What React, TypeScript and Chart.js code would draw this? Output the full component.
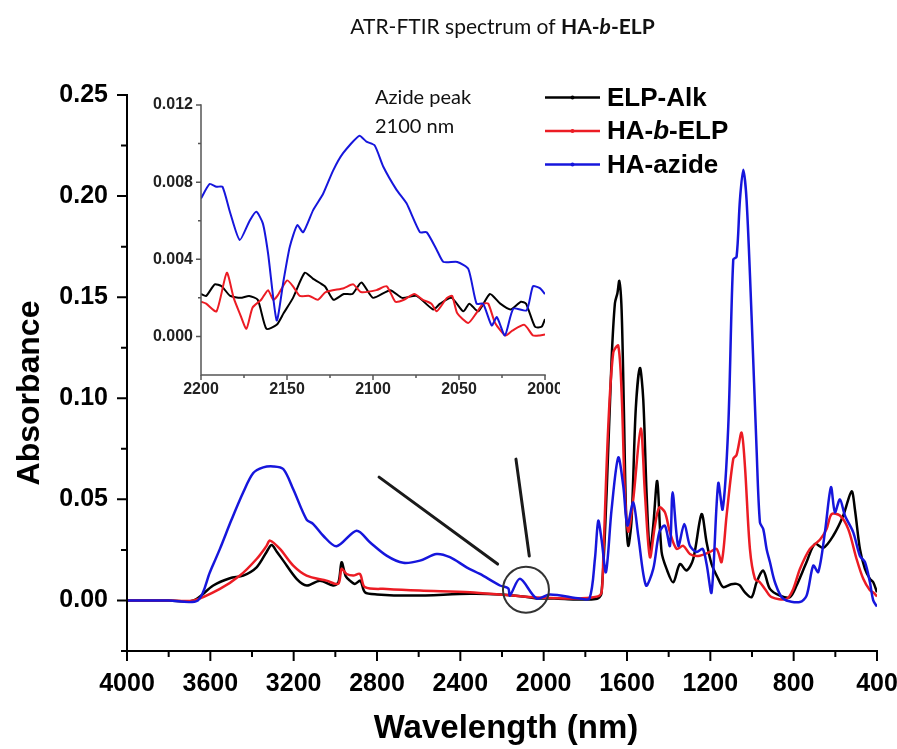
import React, { useEffect, useRef } from 'react';
import { Chart, registerables } from 'chart.js';

Chart.register(...registerables);

// ---------------- DATA ----------------
const SERIES_NAMES = ['ELP-Alk', 'HA-b-ELP', 'HA-azide'];

const X_TICKS = [4000, 3600, 3200, 2800, 2400, 2000, 1600, 1200, 800, 400];
const X_MINOR = [3800, 3400, 3000, 2600, 2200, 1800, 1400, 1000, 600];
const Y_TICKS = [0, 0.05, 0.1, 0.15, 0.2, 0.25];
const Y_MINOR = [-0.025, 0.025, 0.075, 0.125, 0.175, 0.225];

const INSET_X_TICKS = [2200, 2150, 2100, 2050, 2000];
const INSET_X_MINOR = [2175, 2125, 2075, 2025];
const INSET_Y_TICKS = [0, 0.004, 0.008, 0.012];
const INSET_Y_MINOR = [0.002, 0.006, 0.01];

// [wavenumber, absorbance]
const ELP_ALK: [number, number][] = [
  [4000, 0], [3800, 0], [3680, 0], [3586, 0.0074], [3506, 0.011], [3442, 0.0123], [3378, 0.0164],
  [3330, 0.024], [3306, 0.0274], [3280, 0.024], [3250, 0.0197], [3186, 0.0107], [3137, 0.0074], [3074, 0.0098],
  [3011, 0.0074], [2985, 0.009], [2970, 0.0189], [2950, 0.012], [2930, 0.0098], [2906, 0.0082], [2880, 0.0098],
  [2858, 0.0041], [2800, 0.003], [2626, 0.0024], [2354, 0.0033], [2210, 0.003], [2100, 0.002], [2034, 0.001],
  [1950, 0.001], [1850, 0.0005], [1780, 0.0005], [1740, 0.001], [1722, 0.004], [1698, 0.053], [1674, 0.119],
  [1658, 0.147], [1646, 0.152], [1637, 0.158], [1626, 0.144], [1615, 0.0946], [1605, 0.045], [1594, 0.027],
  [1578, 0.04], [1558, 0.0946], [1538, 0.115], [1522, 0.0995], [1506, 0.053], [1490, 0.024], [1474, 0.037],
  [1455, 0.059], [1434, 0.024], [1410, 0.0156], [1378, 0.009], [1346, 0.018], [1314, 0.0148], [1282, 0.0205],
  [1242, 0.0427], [1218, 0.0288], [1194, 0.018], [1162, 0.0107], [1138, 0.0066], [1100, 0.008], [1074, 0.0082],
  [1058, 0.0074], [1034, 0.004], [1002, 0.0016], [978, 0.009], [946, 0.0148], [914, 0.0057], [866, 0.0024],
  [818, 0.0016], [786, 0.0074], [738, 0.019], [698, 0.028], [658, 0.026], [610, 0.032], [562, 0.042],
  [522, 0.054], [506, 0.045], [482, 0.0255], [458, 0.0156], [434, 0.0107], [418, 0.009], [400, 0.004],
];

const HA_B_ELP: [number, number][] = [
  [4000, 0], [3800, 0], [3680, 0], [3554, 0.0057], [3458, 0.0123], [3378, 0.0205], [3330, 0.027],
  [3314, 0.0296], [3266, 0.0255], [3202, 0.0172], [3138, 0.0123], [3042, 0.0098], [2986, 0.0082], [2970, 0.0156],
  [2946, 0.0131], [2914, 0.0123], [2882, 0.0131], [2858, 0.0066], [2754, 0.0057], [2594, 0.0049], [2354, 0.0041],
  [2194, 0.0028], [2100, 0.002], [2034, 0.0015], [1900, 0.001], [1826, 0.001], [1740, 0.002], [1722, 0.004],
  [1714, 0.0205], [1690, 0.086], [1666, 0.1226], [1642, 0.126], [1626, 0.103], [1610, 0.053], [1594, 0.034],
  [1570, 0.05], [1534, 0.085], [1514, 0.053], [1490, 0.0214], [1466, 0.037], [1445, 0.046], [1418, 0.0436],
  [1394, 0.0337], [1362, 0.0255], [1330, 0.027], [1298, 0.023], [1258, 0.022], [1202, 0.024], [1170, 0.0255],
  [1146, 0.019], [1122, 0.042], [1090, 0.07], [1074, 0.072], [1050, 0.083], [1034, 0.0666], [1010, 0.0255],
  [986, 0.0107], [962, 0.009], [938, 0.0057], [906, 0.0016], [834, 0.0008], [802, 0.0057], [770, 0.0156],
  [722, 0.0255], [674, 0.03], [642, 0.0353], [618, 0.0427], [578, 0.042], [538, 0.0353], [498, 0.0205],
  [466, 0.0107], [434, 0.005], [418, 0.004], [400, 0.002],
];

const HA_AZIDE: [number, number][] = [
  [4000, 0], [3800, 0], [3660, 0], [3602, 0.014], [3554, 0.0255], [3498, 0.04], [3442, 0.0535], [3394, 0.063],
  [3346, 0.0658], [3298, 0.0663], [3250, 0.065],
  [3202, 0.055], [3138, 0.04], [3106, 0.0378], [3058, 0.032], [2994, 0.0268], [2898, 0.0345], [2834, 0.0288],
  [2754, 0.0222], [2674, 0.0186], [2594, 0.0197], [2514, 0.023], [2450, 0.0214], [2370, 0.0164], [2306, 0.0131],
  [2210, 0.0074], [2170, 0.006], [2162, 0.0024], [2114, 0.0107], [2034, 0.001], [1970, 0.003], [1826, 0.001],
  [1780, 0.001], [1754, 0.0205], [1738, 0.0394], [1722, 0.03], [1701, 0.014], [1674, 0.045], [1642, 0.0707],
  [1618, 0.0567], [1598, 0.037], [1570, 0.0485], [1546, 0.032], [1509, 0.0074], [1474, 0.0156], [1445, 0.0337],
  [1418, 0.037], [1394, 0.027], [1381, 0.0535], [1354, 0.027], [1325, 0.0378], [1298, 0.027], [1266, 0.024],
  [1237, 0.0255], [1218, 0.018], [1194, 0.004], [1162, 0.058], [1141, 0.045], [1114, 0.086], [1090, 0.1686],
  [1074, 0.17], [1058, 0.198], [1042, 0.213], [1026, 0.198], [1002, 0.1406], [978, 0.0748], [962, 0.0386],
  [946, 0.0353], [930, 0.0255], [914, 0.019], [890, 0.009], [850, 0.0008], [770, -0.0008], [738, 0.0024],
  [706, 0.0172], [682, 0.014], [650, 0.0337], [621, 0.056], [602, 0.0436], [578, 0.05], [554, 0.042],
  [514, 0.0337], [482, 0.022], [458, 0.019], [434, 0.009], [418, 0], [400, -0.003],
];

// inset (2200 - 2000)
const INSET_ELP_ALK: [number, number][] = [
  [2200, 0.0022], [2197, 0.0021], [2192, 0.0027], [2188, 0.0026], [2183, 0.0021], [2177, 0.002], [2172, 0.0021],
  [2167, 0.0019], [2162, 0.0004], [2156, 0.0006], [2152, 0.0012], [2146.5, 0.002], [2139.7, 0.0033], [2135, 0.003],
  [2128, 0.0026], [2123, 0.0019], [2117, 0.0022], [2112, 0.0022], [2106.7, 0.0028], [2100, 0.002], [2090, 0.0024],
  [2083, 0.002], [2074.7, 0.0021], [2065, 0.0014], [2061, 0.0017], [2054.3, 0.002], [2047.5, 0.0013], [2044, 0.0017],
  [2038.8, 0.0013], [2032, 0.0022], [2026, 0.0017], [2020, 0.0014], [2014, 0.0018], [2011, 0.0017], [2005.8, 0.0005],
  [2002, 0.0005], [2000, 0.0009],
];

const INSET_HA_B_ELP: [number, number][] = [
  [2200, 0.0018], [2197, 0.0017], [2191, 0.0013], [2185, 0.0033], [2181, 0.002], [2177.5, 0.0012], [2173.6, 0.0004],
  [2170, 0.0015], [2165, 0.0019], [2161, 0.0024], [2158, 0.0019], [2155.6, 0.0021], [2150, 0.0029], [2146.5, 0.0026],
  [2142.6, 0.0021], [2137, 0.0021], [2132, 0.0019], [2127.5, 0.0023], [2117, 0.0025], [2111.5, 0.0027], [2107, 0.0023],
  [2098, 0.0024], [2092, 0.0026], [2087, 0.0018], [2082, 0.0019], [2076, 0.0022], [2071, 0.0019], [2066, 0.0017],
  [2063, 0.0013], [2057, 0.002], [2054, 0.0021], [2051, 0.0012], [2044.6, 0.0007], [2040, 0.0012], [2036, 0.0017],
  [2033, 0.0017], [2029, 0.0007], [2023, 0.00005], [2019, 0.0003], [2012, 0.0006], [2007, 0.00005], [2003, 0.00005],
  [2000, 0.0001],
];

const INSET_HA_AZIDE: [number, number][] = [
  [2200, 0.00715], [2195, 0.0079], [2191, 0.00776], [2187.5, 0.00776], [2183, 0.0064], [2177.5, 0.005], [2171.7, 0.006],
  [2167.8, 0.00646], [2164, 0.00585], [2161, 0.0043], [2156, 0.00083], [2152, 0.0029], [2148.4, 0.00464], [2144, 0.00577],
  [2140.6, 0.0054], [2134.8, 0.00655], [2129, 0.0074], [2123.2, 0.0086], [2117.4, 0.0095], [2108, 0.0104], [2103.8, 0.0101],
  [2099, 0.0099], [2094, 0.0088], [2086.3, 0.0076], [2080.5, 0.0069], [2072.7, 0.0054], [2068.8, 0.0054], [2063, 0.0045],
  [2059, 0.00386], [2051, 0.00386], [2044.6, 0.0035], [2039.8, 0.0017], [2036, 0.0017], [2031, 0.00057], [2028, 0.001],
  [2023.3, 0.00005], [2018.4, 0.00144], [2010.7, 0.00135], [2007, 0.0026], [2003, 0.0025], [2000, 0.0022],
];

// annotation: pointer lines [wn1, abs1, wn2, abs2] and circled region [wn, abs]
const ANNOT_LINES: [number, number, number, number][] = [
  [2790, 0.061, 2221, 0.018],
  [2133, 0.0699, 2069, 0.022],
];
const ANNOT_CIRCLE: [number, number] = [2085, 0.0053];

// ---------------- STYLE ----------------
const BLACK = '#000000';
const RED = '#ec1c24';
const BLUE = '#1616dc';
const ARIAL = '"Liberation Sans", Arial, sans-serif';
const CAL = 'Lato, "Open Sans", sans-serif';

type Run = { text: string; font: string };

function runsWidth(ctx: CanvasRenderingContext2D, runs: Run[]) {
  let w = 0;
  for (const r of runs) {
    ctx.font = r.font;
    w += ctx.measureText(r.text).width;
  }
  return w;
}
function drawRuns(ctx: CanvasRenderingContext2D, runs: Run[], x: number, y: number) {
  for (const r of runs) {
    ctx.font = r.font;
    ctx.fillText(r.text, x, y);
    x += ctx.measureText(r.text).width;
  }
}

const pts = (arr: [number, number][]) => arr.map(([x, y]) => ({ x, y }));

const framePlugin = {
  id: 'frame',
  afterDatasetsDraw(chart: any, _a: any, o: any) {
    const { ctx, chartArea: a } = chart;
    const xs = chart.scales.x;
    const ys = chart.scales.y;
    ctx.save();
    ctx.strokeStyle = o.color;
    ctx.lineWidth = o.axisWidth;
    ctx.lineCap = 'square';
    const top = ys.getPixelForValue(o.yTop);
    ctx.beginPath();
    ctx.moveTo(a.left, top);
    ctx.lineTo(a.left, a.bottom);
    ctx.lineTo(a.right, a.bottom);
    ctx.stroke();
    ctx.lineCap = 'butt';
    ctx.lineWidth = o.tickWidth;
    ctx.beginPath();
    const xt = (vals: number[], len: number) =>
      vals.forEach((v) => {
        const p = xs.getPixelForValue(v);
        ctx.moveTo(p, a.bottom);
        ctx.lineTo(p, a.bottom + len);
      });
    const yt = (vals: number[], len: number) =>
      vals.forEach((v) => {
        const p = ys.getPixelForValue(v);
        ctx.moveTo(a.left, p);
        ctx.lineTo(a.left - len, p);
      });
    xt(o.xMajor, o.majorLen);
    xt(o.xMinor, o.minorLen);
    yt(o.yMajor, o.majorLen);
    yt(o.yMinor, o.minorLen);
    ctx.stroke();
    ctx.restore();
  },
};

const TITLE_RUNS: Run[] = [
  { text: 'ATR-FTIR spectrum of ', font: `21px ${CAL}` },
  { text: 'HA-', font: `bold 21px ${CAL}` },
  { text: 'b', font: `italic bold 21px ${CAL}` },
  { text: '-ELP', font: `bold 21px ${CAL}` },
];
const LEG = `bold 26px ${ARIAL}`;
const LEG_I = `italic bold 26px ${ARIAL}`;
const LEGEND_RUNS: Run[][] = [
  [{ text: SERIES_NAMES[0], font: LEG }],
  [{ text: 'HA-', font: LEG }, { text: 'b', font: LEG_I }, { text: '-ELP', font: LEG }],
  [{ text: SERIES_NAMES[2], font: LEG }],
];
const LEGEND_COLORS = [BLACK, RED, BLUE];

const decoPlugin = {
  id: 'deco',
  afterDraw(chart: any) {
    const { ctx, chartArea: a } = chart;
    const xs = chart.scales.x;
    const ys = chart.scales.y;
    ctx.save();
    // title
    ctx.fillStyle = '#111';
    ctx.textAlign = 'left';
    ctx.textBaseline = 'alphabetic';
    const tw = runsWidth(ctx, TITLE_RUNS);
    drawRuns(ctx, TITLE_RUNS, 502.5 - tw / 2, 34);

    // axis titles
    ctx.fillStyle = '#000';
    ctx.font = `bold 33px ${ARIAL}`;
    ctx.textAlign = 'center';
    ctx.textBaseline = 'middle';
    ctx.fillText('Wavelength (nm)', (a.left + a.right) / 2 + 4, 729);
    ctx.font = `bold 32px ${ARIAL}`;
    ctx.save();
    ctx.translate(30, 393);
    ctx.rotate(-Math.PI / 2);
    ctx.fillText('Absorbance', 0, 0);
    ctx.restore();

    // legend
    const ly = [97.5, 131, 164.5];
    ctx.textAlign = 'left';
    ctx.textBaseline = 'middle';
    LEGEND_RUNS.forEach((runs, i) => {
      ctx.strokeStyle = LEGEND_COLORS[i];
      ctx.lineWidth = 2.5;
      ctx.beginPath();
      ctx.moveTo(545, ly[i]);
      ctx.lineTo(600, ly[i]);
      ctx.stroke();
      ctx.fillStyle = LEGEND_COLORS[i];
      ctx.beginPath();
      ctx.arc(572.5, ly[i], 2, 0, Math.PI * 2);
      ctx.fill();
      ctx.fillStyle = '#000';
      drawRuns(ctx, runs, 607, ly[i] + 1);
    });

    // annotation lines + circle
    ctx.strokeStyle = '#1a1a1a';
    ctx.lineWidth = 3;
    ctx.lineCap = 'round';
    ANNOT_LINES.forEach(([x1, y1, x2, y2]) => {
      ctx.beginPath();
      ctx.moveTo(xs.getPixelForValue(x1), ys.getPixelForValue(y1));
      ctx.lineTo(xs.getPixelForValue(x2), ys.getPixelForValue(y2));
      ctx.stroke();
    });
    ctx.strokeStyle = '#333';
    ctx.lineWidth = 2;
    ctx.beginPath();
    ctx.arc(xs.getPixelForValue(ANNOT_CIRCLE[0]), ys.getPixelForValue(ANNOT_CIRCLE[1]), 23, 0, Math.PI * 2);
    ctx.stroke();

    // inset note
    ctx.fillStyle = '#111';
    ctx.font = `20px ${CAL}`;
    ctx.textBaseline = 'alphabetic';
    ctx.fillText('Azide peak', 375, 104);
    ctx.fillText('2100 nm', 375, 133);
    ctx.restore();
  },
};

function lineDs(label: string, data: [number, number][], color: string, order: number, width: number, tension: number) {
  return {
    label,
    data: pts(data),
    borderColor: color,
    backgroundColor: color,
    borderWidth: width,
    pointRadius: 0,
    fill: false,
    tension,
    order,
  };
}

export default function App() {
  const mainRef = useRef<HTMLCanvasElement>(null);
  const insetRef = useRef<HTMLCanvasElement>(null);

  useEffect(() => {
    const tickFont = { family: ARIAL, size: 25, weight: 'bold' as const };
    const main = new Chart(mainRef.current as HTMLCanvasElement, {
      type: 'line',
      data: {
        datasets: [
          lineDs(SERIES_NAMES[0], ELP_ALK, BLACK, 2, 2.5, 0.3),
          lineDs(SERIES_NAMES[1], HA_B_ELP, RED, 1, 2.5, 0.3),
          lineDs(SERIES_NAMES[2], HA_AZIDE, BLUE, 0, 2.5, 0.3),
        ],
      },
      options: {
        responsive: false,
        animation: false,
        layout: { padding: { top: 95, right: 20, left: 0, bottom: 0 } },
        plugins: {
          legend: { display: false },
          tooltip: { enabled: false },
          title: { display: false },
          frame: {
            color: '#000', axisWidth: 2, tickWidth: 2, majorLen: 10, minorLen: 6, yTop: 0.25,
            xMajor: X_TICKS, xMinor: X_MINOR, yMajor: Y_TICKS, yMinor: Y_MINOR,
          },
        } as any,
        scales: {
          x: {
            type: 'linear', reverse: true, min: 400, max: 4000,
            grid: { display: false, drawTicks: false }, border: { display: false },
            afterBuildTicks: (s: any) => { s.ticks = X_TICKS.map((v) => ({ value: v })); },
            afterFit: (s: any) => { s.height = 98; s.paddingLeft = 0; s.paddingRight = 0; },
            ticks: { font: tickFont, color: '#000', padding: 18, maxRotation: 0, autoSkip: false, callback: (v: any) => String(v) },
          },
          y: {
            type: 'linear', min: -0.025, max: 0.25,
            grid: { display: false, drawTicks: false }, border: { display: false },
            afterBuildTicks: (s: any) => { s.ticks = Y_TICKS.map((v) => ({ value: v })); },
            afterFit: (s: any) => { s.width = 127; s.paddingTop = 0; s.paddingBottom = 0; },
            ticks: { font: tickFont, color: '#000', padding: 19, autoSkip: false, callback: (v: any) => Number(v).toFixed(2) },
          },
        },
      },
      plugins: [framePlugin, decoPlugin],
    });

    const insetFont = { family: ARIAL, size: 16, weight: 'bold' as const };
    const inset = new Chart(insetRef.current as HTMLCanvasElement, {
      type: 'line',
      data: {
        datasets: [
          lineDs(SERIES_NAMES[0], INSET_ELP_ALK, BLACK, 2, 2, 0.2),
          lineDs(SERIES_NAMES[1], INSET_HA_B_ELP, RED, 1, 2, 0.2),
          lineDs(SERIES_NAMES[2], INSET_HA_AZIDE, BLUE, 0, 2, 0.2),
        ],
      },
      options: {
        responsive: false,
        animation: false,
        layout: { padding: { top: 15, right: 15, left: 0, bottom: 0 } },
        plugins: {
          legend: { display: false },
          tooltip: { enabled: false },
          title: { display: false },
          frame: {
            color: '#555', axisWidth: 1.5, tickWidth: 1.5, majorLen: 5, minorLen: 3, yTop: 0.012,
            xMajor: INSET_X_TICKS, xMinor: INSET_X_MINOR, yMajor: INSET_Y_TICKS, yMinor: INSET_Y_MINOR,
          },
        } as any,
        scales: {
          x: {
            type: 'linear', reverse: true, min: 2000, max: 2200,
            grid: { display: false, drawTicks: false }, border: { display: false },
            afterBuildTicks: (s: any) => { s.ticks = INSET_X_TICKS.map((v) => ({ value: v })); },
            afterFit: (s: any) => { s.height = 35; s.paddingLeft = 0; s.paddingRight = 0; },
            ticks: { font: insetFont, color: '#222', padding: 5, maxRotation: 0, autoSkip: false, callback: (v: any) => String(v) },
          },
          y: {
            type: 'linear', min: -0.002, max: 0.012,
            grid: { display: false, drawTicks: false }, border: { display: false },
            afterBuildTicks: (s: any) => { s.ticks = INSET_Y_TICKS.map((v) => ({ value: v })); },
            afterFit: (s: any) => { s.width = 71; s.paddingTop = 0; s.paddingBottom = 0; },
            ticks: { font: insetFont, color: '#222', padding: 8, autoSkip: false, callback: (v: any) => Number(v).toFixed(3) },
          },
        },
      },
      plugins: [framePlugin],
    });

    return () => {
      main.destroy();
      inset.destroy();
    };
  }, []);

  return (
    <div style={{ position: 'absolute', left: 0, top: 0, width: 897, height: 749, background: '#fff' }}>
      <canvas ref={mainRef} width={897} height={749} style={{ position: 'absolute', left: 0, top: 0, width: 897, height: 749 }} />
      <canvas ref={insetRef} width={430} height={320} style={{ position: 'absolute', left: 130, top: 90, width: 430, height: 320 }} />
    </div>
  );
}
